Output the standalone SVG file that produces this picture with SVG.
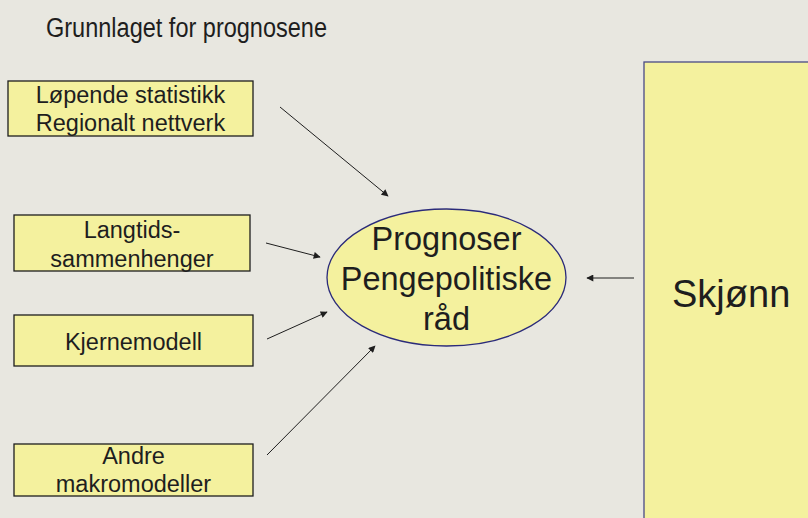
<svg xmlns="http://www.w3.org/2000/svg" width="808" height="518" viewBox="0 0 808 518">
<defs>
<style>
.bg{fill:#e8e7e0}
.box{fill:#f4f19e;stroke:#1e1e1e;stroke-width:1.3}
.ell{fill:#f4f19e;stroke:#2b2b7a;stroke-width:1.3}
.big{fill:#f4f19e;stroke:#4a4a86;stroke-width:1.3}
.t{font-family:"Liberation Sans",Arial,sans-serif;fill:#1e1e1e;text-anchor:middle}
.s{font-size:23.5px}
.conn line{stroke:#1e1e1e;stroke-width:1;marker-end:url(#ah)}
</style>
<marker id="ah" viewBox="0 0 10 10" refX="9" refY="5" markerWidth="10" markerHeight="7" markerUnits="userSpaceOnUse" orient="auto">
<path d="M0,0 L10,5 L0,10 z" fill="#1e1e1e"/>
</marker>
</defs>
<rect class="bg" x="0" y="0" width="808" height="518"/>
<g id="title">
<text x="46" y="37" style="font-family:'Liberation Sans Narrow','Liberation Sans',Arial,sans-serif;font-size:27px;fill:#1e1e1e" textLength="281" lengthAdjust="spacingAndGlyphs">Grunnlaget for prognosene</text>
</g>
<g id="n1">
<rect class="box" x="8" y="81" width="245" height="55"/>
<text class="t s" x="130.5" y="103">Løpende statistikk</text>
<text class="t s" x="130.5" y="131">Regionalt nettverk</text>
</g>
<g id="n2">
<rect class="box" x="14" y="215" width="236" height="56"/>
<text class="t s" x="132" y="238">Langtids-</text>
<text class="t s" x="132" y="267">sammenhenger</text>
</g>
<g id="n3">
<rect class="box" x="14" y="315" width="239" height="51"/>
<text class="t s" x="133.5" y="350">Kjernemodell</text>
</g>
<g id="n4">
<rect class="box" x="14" y="444" width="239" height="52"/>
<text class="t s" x="133.5" y="464">Andre</text>
<text class="t s" x="133.5" y="492">makromodeller</text>
</g>
<g id="center">
<ellipse class="ell" cx="446.5" cy="277.5" rx="119.5" ry="68.5"/>
<text class="t" x="446.5" y="250" style="font-size:32.5px">Prognoser</text>
<text class="t" x="446.5" y="290" style="font-size:32.5px">Pengepolitiske</text>
<text class="t" x="446.5" y="330" style="font-size:32.5px">råd</text>
</g>
<g id="skjonn">
<rect class="big" x="644" y="62" width="180" height="470"/>
<text x="672" y="307" style="font-family:'Liberation Sans',Arial,sans-serif;font-size:38px;fill:#1e1e1e">Skjønn</text>
</g>
<g id="connectors" class="conn">
<line x1="280" y1="107" x2="388" y2="196"/>
<line x1="266" y1="243" x2="320" y2="257"/>
<line x1="267" y1="339" x2="327" y2="312"/>
<line x1="267" y1="455" x2="375" y2="346"/>
<line x1="634" y1="278" x2="587" y2="278"/>
</g>
</svg>
